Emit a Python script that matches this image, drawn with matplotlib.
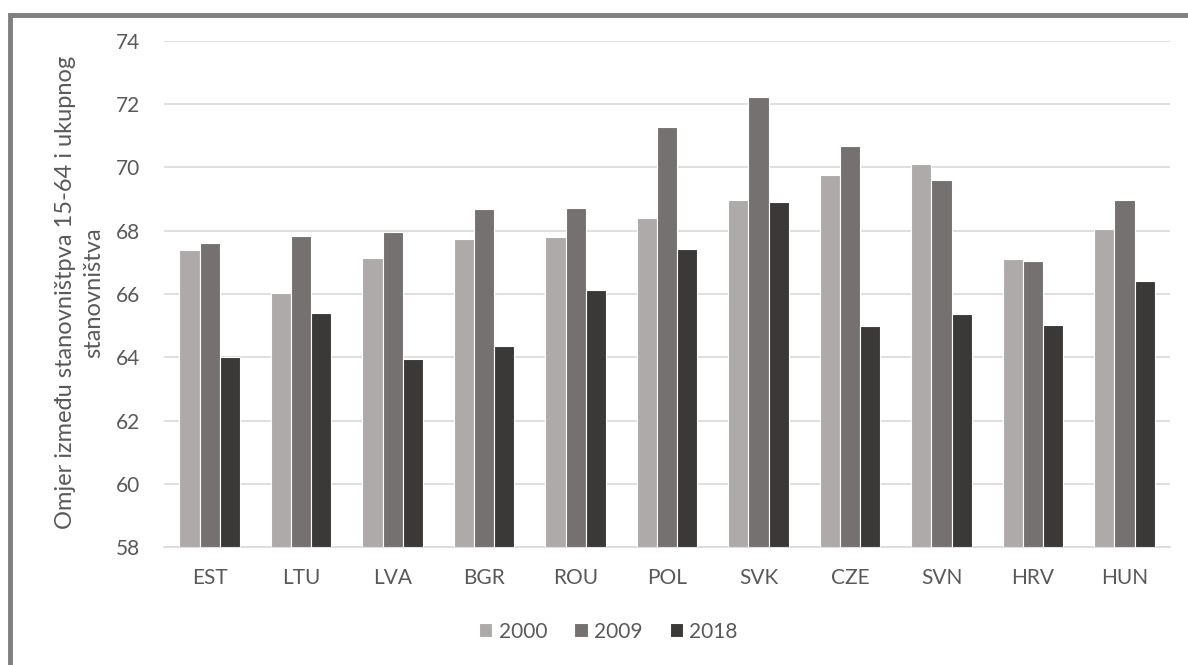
import matplotlib.pyplot as plt
import matplotlib.patches as patches
import numpy as np

countries = ['EST', 'LTU', 'LVA', 'BGR', 'ROU', 'POL', 'SVK', 'CZE', 'SVN', 'HRV', 'HUN']
v2000 = [67.38, 66.04, 67.14, 67.73, 67.79, 68.40, 68.98, 69.76, 70.12, 67.10, 68.05]
v2009 = [67.60, 67.85, 67.97, 68.70, 68.72, 71.29, 72.21, 70.69, 69.59, 67.03, 68.96]
v2018 = [64.01, 65.40, 63.96, 64.37, 66.12, 67.41, 68.91, 64.98, 65.37, 65.03, 66.42]
years = ['2000', '2009', '2018']

plt.rcParams['font.family'] = ['Lato', 'DejaVu Sans']
text_col = '#595959'
colors = ['#aeaaaa', '#767171', '#3b3838']

fig = plt.figure(figsize=(11.88, 6.65), dpi=100)
ax = fig.add_axes([0.138, 0.177, 0.847, 0.7616])

x = np.arange(len(countries))
step = 0.22
for i, (vals, lab) in enumerate(zip([v2000, v2009, v2018], years)):
    ax.bar(x + (i - 1) * step, np.array(vals) - 58, bottom=58, width=step,
           color=colors[i], edgecolor='white', linewidth=0.8, label=lab, zorder=3)

ax.set_xlim(-0.5, len(countries) - 0.5)
ax.set_ylim(58, 74)
ax.set_yticks(range(58, 75, 2))
ax.set_xticks(x)
ax.set_xticklabels(countries)
ax.tick_params(length=0, labelsize=15, colors=text_col)
ax.tick_params(axis='x', pad=15)
ax.tick_params(axis='y', pad=17)
ax.grid(axis='y', color='#d9d9d9', linewidth=1.2, zorder=0)
for s in ['left', 'right', 'top']:
    ax.spines[s].set_visible(False)
ax.spines['bottom'].set_color('#d9d9d9')
ax.spines['bottom'].set_linewidth(1.2)

fig.text(0.067, 0.56, 'Omjer između stanovništpva 15-64 i ukupnog\nstanovništva',
         rotation=90, ha='center', va='center', multialignment='center',
         fontsize=17, color=text_col, linespacing=1.4)

leg = fig.legend(loc='center', bbox_to_anchor=(0.512, 0.05), ncol=3, frameon=False,
                 fontsize=15, handlelength=0.65, handleheight=0.65, handletextpad=0.3,
                 columnspacing=1.3, labelcolor=text_col)

fig.patches.append(patches.Rectangle((9.5 / 1188, -0.1), 1.2, 1.1 - 14.5 / 665,
                                     transform=fig.transFigure, fill=False,
                                     edgecolor='#7f7f7f', linewidth=3.5))

fig.savefig('out.png', dpi=100)
